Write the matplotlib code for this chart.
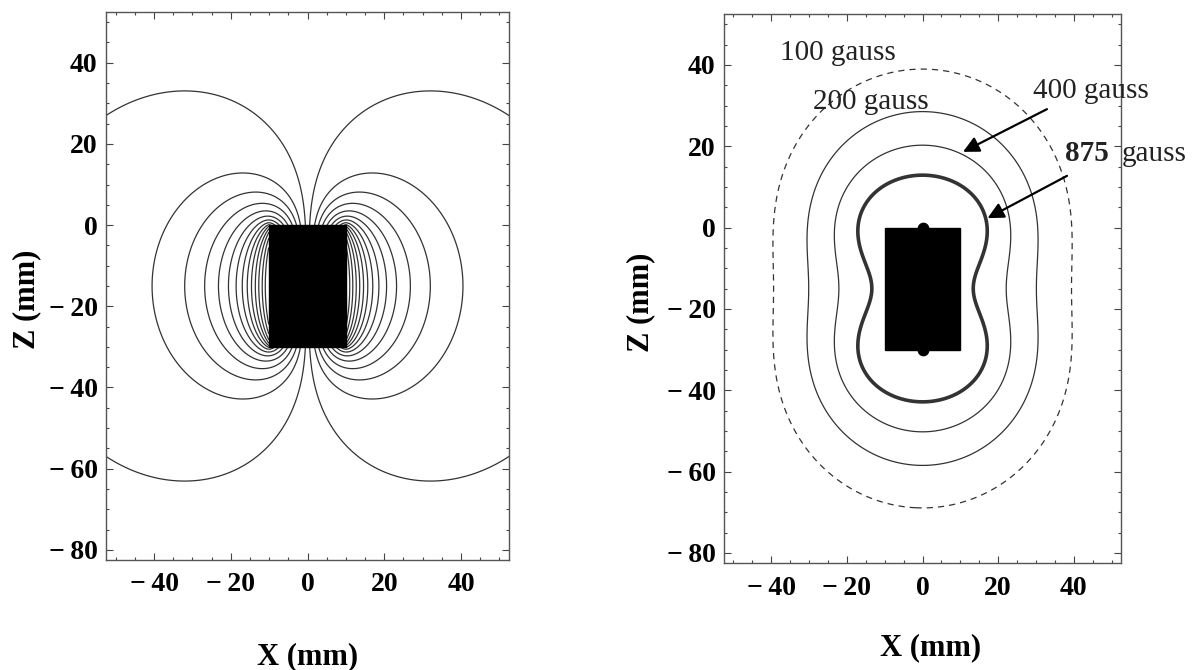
import numpy as np
import matplotlib
matplotlib.use("Agg")
import matplotlib.pyplot as plt
from matplotlib.patches import Rectangle
from matplotlib.ticker import MultipleLocator, FuncFormatter

# =========================
# DATA
# =========================
# magnet block in mm, magnetised along z
magnet_x = [-10.0, 10.0]
magnet_z = [-30.0, 0.0]
magnet_br = 9500.0  # remanence, gauss

# left panel: one point (mm) that each drawn field line passes through
line_x = [-34.0, -40.5, -32.0, -26.8, -23.2, -20.6, -18.6,
          -17.0, -15.7, -14.6, -13.6, -12.7, -11.8, -11.0]
line_z = [33.0, -15.0, -15.0, -15.0, -15.0, -15.0, -15.0,
          -15.0, -15.0, -15.0, -15.0, -15.0, -15.0, -15.0]

# right panel: |B| contour levels (gauss) and their labels
b_levels = [100, 200, 400, 875]
label_text = ["100 gauss", "200 gauss", "400 gauss", "875"]
label_x = [-37.7, -29.0, 29.2, 37.7]
label_z = [41.2, 29.1, 31.8, 16.4]

arrow_tail_x = [32.9, 38.2]
arrow_tail_z = [29.1, 12.7]
arrow_tip_x = [10.7, 17.2]
arrow_tip_z = [18.6, 2.3]

bump_x = [0.0, 0.0]
bump_z = [0.0, -30.0]

SERIF = ["Liberation Serif", "DejaVu Serif"]
LINE_COL = "#333333"


# =========================
# FIELD OF THE MAGNET (current sheet model)
# =========================
def ellip_ke(m):
    a = np.ones_like(m)
    b = np.sqrt(1.0 - m)
    c = np.sqrt(m)
    s = 0.5 * c ** 2
    p = 0.5
    for _ in range(10):
        a, b, c = (a + b) / 2, np.sqrt(a * b), (a - b) / 2
        p *= 2
        s = s + p * c ** 2
    K = np.pi / (2 * a)
    return K, K * (1 - s)


def magnet_field(r, z, n_loops=150):
    rad = magnet_x[1]
    dzp = (magnet_z[1] - magnet_z[0]) / n_loops
    A = np.zeros_like(r)
    bz = np.zeros_like(r)
    br = np.zeros_like(r)
    for zp in magnet_z[0] + (np.arange(n_loops) + 0.5) * dzp:
        dz = z - zp
        q = (rad + r) ** 2 + dz ** 2
        d = (rad - r) ** 2 + dz ** 2
        m = 4 * rad * r / q
        K, E = ellip_ke(m)
        A += np.sqrt(rad / r) / np.sqrt(m) * ((1 - m / 2) * K - E)
        bz += (K + (rad ** 2 - r ** 2 - dz ** 2) / d * E) / np.sqrt(q)
        br += dz / (r * np.sqrt(q)) * (-K + (rad ** 2 + r ** 2 + dz ** 2) / d * E)
    A *= magnet_br * dzp / np.pi
    bz *= magnet_br * dzp / (2 * np.pi)
    br *= magnet_br * dzp / (2 * np.pi)
    return A, np.hypot(bz, br)


r = np.arange(0.125, 53.0, 0.25)
z = np.arange(-83.0, 53.2, 0.3)
R, Z = np.meshgrid(r, z)
A_half, B_half = magnet_field(R, Z)

X = np.concatenate([-r[::-1], r])
A_full = np.hstack([A_half[:, ::-1], A_half])
B_full = np.hstack([B_half[:, ::-1], B_half])

line_levels, _ = magnet_field(np.abs(np.array(line_x)), np.array(line_z))
line_levels = np.unique(np.round(line_levels, 6))


# =========================
# FIGURE
# =========================
fig = plt.figure(figsize=(11.94, 6.70), dpi=100)
ax1 = fig.add_axes([0.0888, 0.1642, 0.3375, 0.8179])
ax2 = fig.add_axes([0.6064, 0.1597, 0.3325, 0.8194])


def tick_fmt(v, pos):
    if v < 0:
        return "\u2212\u2009%d" % abs(v)
    return "%d" % v


for ax in (ax1, ax2):
    ax.set_xlim(-52.5, 52.5)
    ax.set_ylim(-82.5, 52.5)
    ax.xaxis.set_major_locator(MultipleLocator(20))
    ax.yaxis.set_major_locator(MultipleLocator(20))
    ax.xaxis.set_minor_locator(MultipleLocator(5))
    ax.yaxis.set_minor_locator(MultipleLocator(5))
    ax.xaxis.set_major_formatter(FuncFormatter(tick_fmt))
    ax.yaxis.set_major_formatter(FuncFormatter(tick_fmt))
    ax.tick_params(which="both", direction="in", top=True, right=True,
                   color="#444444", width=0.8)
    ax.tick_params(which="major", length=5)
    ax.tick_params(which="minor", length=2.5)
    ax.tick_params(axis="x", pad=9)
    ax.tick_params(axis="y", pad=6)
    for lab in ax.get_xticklabels() + ax.get_yticklabels():
        lab.set_family(SERIF)
        lab.set_fontweight("bold")
        lab.set_fontsize(20)
    for sp in ax.spines.values():
        sp.set_color("#555555")
        sp.set_linewidth(1.0)
    ax.add_patch(Rectangle((magnet_x[0], magnet_z[0]),
                           magnet_x[1] - magnet_x[0], magnet_z[1] - magnet_z[0],
                           facecolor="black", edgecolor="black", zorder=3))
    ax.set_xlabel("X (mm)", family=SERIF, fontweight="bold", fontsize=22, va="center")
    ax.set_ylabel("Z (mm)", family=SERIF, fontweight="bold", fontsize=22, va="center")

ax1.xaxis.set_label_coords(0.5, -0.177)
ax1.yaxis.set_label_coords(-0.196, 0.476)
ax2.xaxis.set_label_coords(0.52, -0.155)
ax2.yaxis.set_label_coords(-0.21, 0.474)

# left: field lines
ax1.contour(X, z, A_full, levels=line_levels, colors=LINE_COL, linewidths=0.9)

# right: |B| contours
b_widths = [0.9, 0.9, 0.9, 2.6]
b_styles = [(0, (5, 4)), "solid", "solid", "solid"]
for lvl, lw, ls in zip(b_levels, b_widths, b_styles):
    ax2.contour(X, z, B_full, levels=[lvl], colors=LINE_COL,
                linewidths=lw, linestyles=[ls])

ax2.scatter(bump_x, bump_z, s=55, color="black", zorder=4)

for txt, tx, tz in zip(label_text, label_x, label_z):
    weight = "bold" if txt == "875" else "normal"
    ax2.text(tx, tz, txt, family=SERIF, fontsize=21, fontweight=weight,
             ha="left", va="baseline", color="#222222", zorder=5)
ax2.text(52.8, label_z[3], "gauss", family=SERIF, fontsize=21,
         ha="left", va="baseline", color="#222222", zorder=5)

for x0, z0, x1, z1 in zip(arrow_tail_x, arrow_tail_z, arrow_tip_x, arrow_tip_z):
    ax2.annotate("", xy=(x1, z1), xytext=(x0, z0),
                 arrowprops=dict(arrowstyle="-|>", color="black", lw=1.6,
                                 mutation_scale=24, shrinkA=0, shrinkB=0),
                 zorder=5)

fig.savefig("out.png", dpi=100)
